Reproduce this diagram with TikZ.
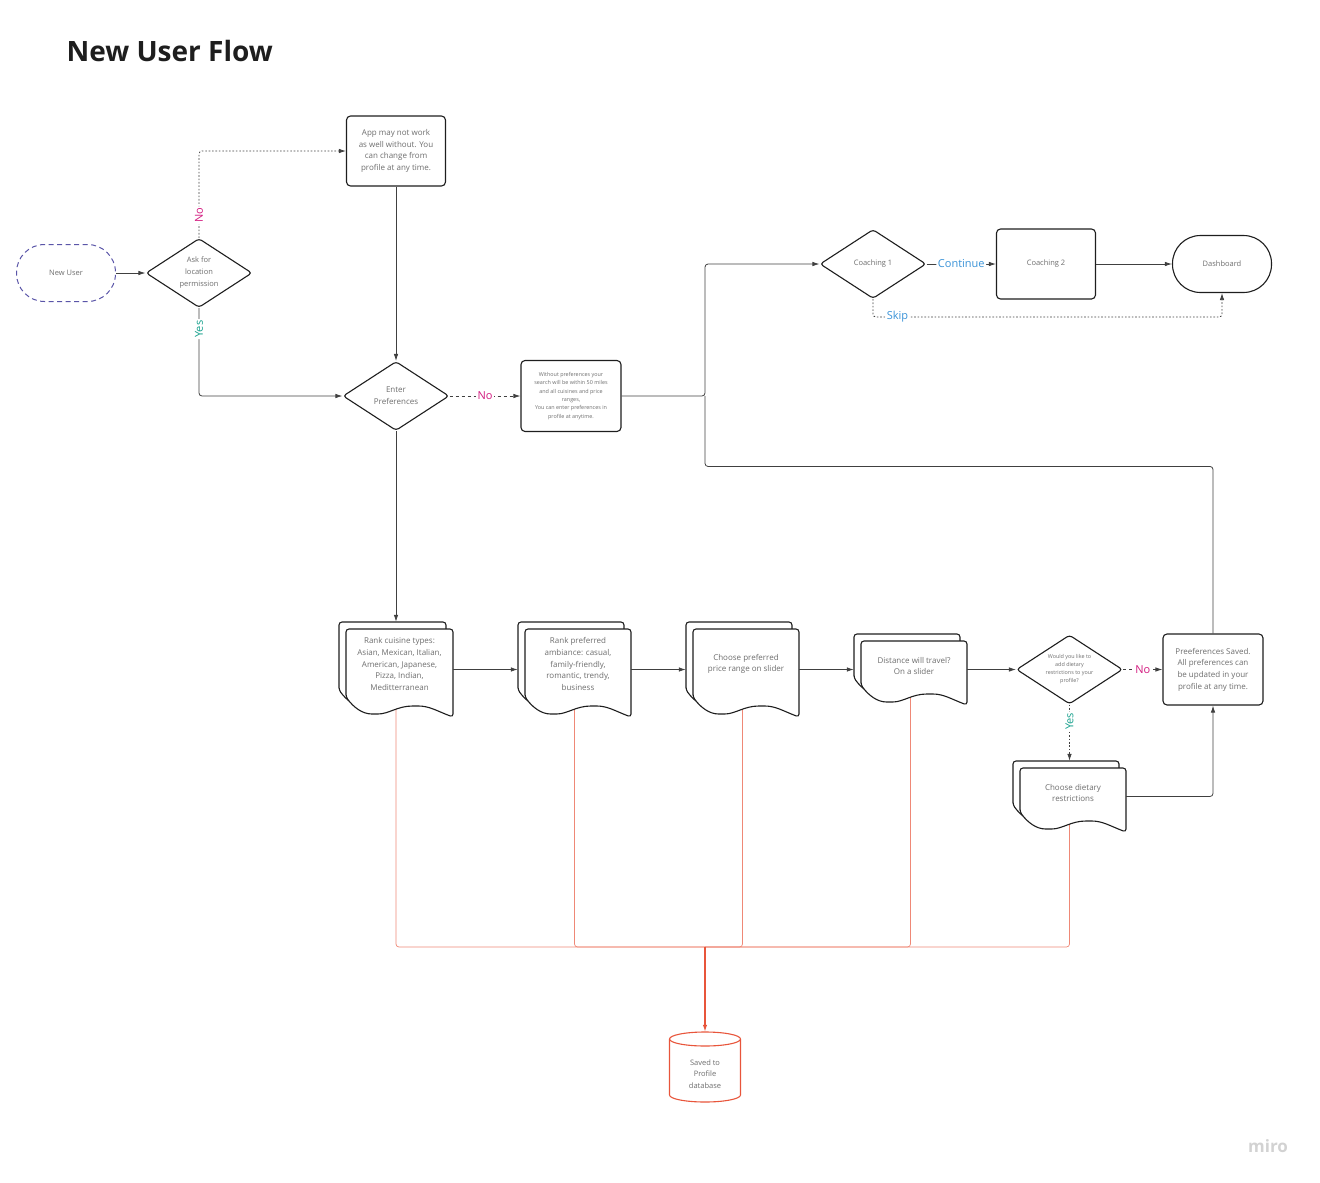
\documentclass[tikz,border=0pt]{standalone}
\usepackage{fontspec}
\setmainfont{Open Sans}
\usetikzlibrary{shapes.geometric,arrows.meta,backgrounds}
\definecolor{ink}{HTML}{1E1E1E}
\definecolor{txt}{HTML}{6E6E6E}
\definecolor{nored}{HTML}{D3197F}
\definecolor{yesteal}{HTML}{15A08C}
\definecolor{skipblue}{HTML}{3A93D8}
\definecolor{userblue}{HTML}{5A55A8}
\definecolor{dbred}{HTML}{E8553B}
% document outline: left x, top y, width, height
\newcommand\docpath[4]{(#1,#2+#4-20) -- (#1,#2) -- (#1+#3,#2) -- (#1+#3,#2+#4)
  .. controls (#1+0.85*#3,#2+#4-6) and (#1+0.78*#3,#2+#4-11) .. (#1+0.65*#3,#2+#4-11)
  .. controls (#1+0.48*#3,#2+#4-11) and (#1+0.4*#3,#2+#4-3) .. (#1+0.27*#3,#2+#4-3)
  .. controls (#1+0.15*#3,#2+#4-3) and (#1+0.07*#3,#2+#4-10) .. (#1,#2+#4-20) -- cycle}
% stacked documents: name, left x, top y, width, height, text offset, text
\newcommand\docstack[7]{%
  \draw[docline] \docpath{#2-7}{#3-7}{#4}{#5};
  \draw[docline] \docpath{#2}{#3}{#4}{#5};
  \node[docfit,minimum width=#4+7,minimum height=#5+7] (#1) at (#2+#4/2-3.5,#3+#5/2-3.5) {};
  \node (#1-text) at (#2+#4/2,#3+#6) {#7};}
\begin{document}
\begin{tikzpicture}[x=1pt,y=-1pt,
  every node/.style={font=\fontsize{8}{11.7}\selectfont,text=txt,align=center},
  shapeline/.style={draw=ink,line width=1.1pt,fill=white},
  roundbox/.style={shapeline,rounded corners=4pt,minimum width=99pt,minimum height=70pt,inner sep=1pt},
  decision/.style={shapeline,diamond,aspect=1.55,rounded corners=3pt,minimum width=106pt,minimum height=69pt,inner sep=0pt},
  terminal/.style={shapeline,rounded corners=28pt,minimum width=99pt,minimum height=57pt},
  docline/.style={draw=ink,line width=1.1pt,fill=white,rounded corners=3pt},
  docfit/.style={inner sep=0pt},
  link/.style={draw=ink!85,line width=0.8pt,rounded corners=3pt},
  flow/.style={link,-{Latex[length=7pt,width=4.5pt]}},
  dotflow/.style={flow,dash pattern=on 1.6pt off 1.8pt},
  dashflow/.style={flow,dash pattern=on 3pt off 3pt},
  tag/.style={fill=white,inner sep=1.5pt,font=\fontsize{11}{12}\selectfont},
  toprofile/.style={draw=dbred!70,line width=0.7pt,rounded corners=3pt}]
\useasboundingbox (0,0) rectangle (1320,1183);
\node[font=\fontsize{28}{30}\selectfont\bfseries,text=ink,anchor=base west] (title) at (63,61) {New User Flow};

\node[terminal,draw=userblue,line width=1pt,dash pattern=on 5pt off 3.5pt,font=\fontsize{7.5}{10}\selectfont] (user) at (66,273) {New User};
\node[decision,font=\fontsize{7.5}{12}\selectfont] (ask) at (199,273) {Ask for\\location\\permission};
\node[roundbox] (app) at (396,151) {App may not work\\as well without. You\\can change from\\profile at any time.};
\node[decision] (enter) at (396,396) {Enter\\Preferences};
\node[roundbox,minimum width=100pt,minimum height=71pt,font=\fontsize{5.4}{8.3}\selectfont] (nopref) at (571,396) {Without preferences your\\search will be within 50 miles\\and all cuisines and price\\ranges,\\You can enter preferences in\\profile at anytime.};
\node[decision,font=\fontsize{7.5}{10}\selectfont] (coach1) at (873,264) {Coaching 1};
\node[roundbox,font=\fontsize{7.5}{10}\selectfont] (coach2) at (1046,264) {Coaching 2};
\node[terminal,font=\fontsize{7.5}{10}\selectfont] (dash) at (1222,264) {Dashboard};

\docstack{cuisine}{346}{629}{107}{88}{35}{Rank cuisine types:\\Asian, Mexican, Italian,\\American, Japanese,\\Pizza, Indian,\\Meditterranean}
\docstack{ambiance}{525}{629}{106}{88}{35}{Rank preferred\\ambiance: casual,\\family-friendly,\\romantic, trendy,\\business}
\docstack{price}{693}{629}{106}{88}{35}{Choose preferred\\price range on slider}
\docstack{distance}{861}{641}{106}{64}{25}{Distance will travel?\\On a slider}
\docstack{dietpick}{1020}{768}{106}{64}{25}{Choose dietary\\restrictions}

\node[decision,font=\fontsize{5.4}{8}\selectfont] (diet) at (1069.5,669.5) {Would you like to\\add dietary\\restrictions to your\\profile?};
\node[roundbox,minimum width=100pt,minimum height=71pt] (saved) at (1213,669.5) {Preeferences Saved.\\All preferences can\\be updated in your\\profile at any time.};

\node[docfit,minimum width=71pt,minimum height=70pt] (db) at (705,1067) {};
\draw[dbred,line width=1.1pt,fill=white] (669.5,1039) -- (669.5,1095) arc[start angle=180,end angle=360,x radius=35.5pt,y radius=7pt] -- (740.5,1039) arc[start angle=0,end angle=180,x radius=35.5pt,y radius=7pt] -- cycle;
\draw[dbred,line width=1.1pt] (669.5,1039) arc[start angle=180,end angle=360,x radius=35.5pt,y radius=7pt];
\node[font=\fontsize{7.5}{11.7}\selectfont] (db-text) at (705,1074) {Saved to\\Profile\\database};

\node[font=\fontsize{17}{20}\selectfont\bfseries,text=gray!35] (miro) at (1268,1146) {miro};

\draw[flow] (user) -- (ask);
\draw[dotflow] (ask.north) |- node[tag,text=nored,rotate=90,pos=0.13] {No} (app.west);
\draw[flow] (ask.south) |- node[tag,text=yesteal,rotate=90,pos=0.12] {Yes} (enter.west);
\draw[flow] (app) -- (enter);
\draw[dashflow] (enter) -- node[tag,text=nored] {No} (nopref);
\coordinate (junction) at (705,396);
\draw[flow] (nopref.east) -- (junction) |- (coach1.west);
\draw[link] (saved.north) -- ++(0,-167) -| (junction);
\draw[flow] (coach1) -- node[tag,text=skipblue] {Continue} (coach2);
\draw[flow] (coach2) -- (dash);
\draw[dotflow] (coach1.south) -- ++(0,18) -| node[tag,text=skipblue,pos=0.035] {Skip} (dash.south);

\draw[flow] (enter) -- (cuisine);
\draw[flow] (cuisine) -- (ambiance);
\draw[flow] (ambiance) -- (price);
\draw[flow] (price) -- (distance);
\draw[flow] (distance) -- (diet);
\draw[dashflow] (diet) -- node[tag,text=nored] {No} (saved);
\draw[dotflow] (diet) -- node[tag,text=yesteal,rotate=90,pos=0.3] {Yes} (dietpick);
\draw[flow] (dietpick.east) -| (saved.south);

\coordinate (hub) at (705,947);
\begin{pgfonlayer}{background}
\foreach \d in {cuisine,ambiance,price,distance,dietpick}
  \draw[toprofile] (\d.center) |- (hub);
\draw[toprofile,draw=dbred,line width=1.3pt,-{Latex[length=7pt,width=4.5pt]}] (hub) -- (db.north);
\end{pgfonlayer}
\end{tikzpicture}
\end{document}
